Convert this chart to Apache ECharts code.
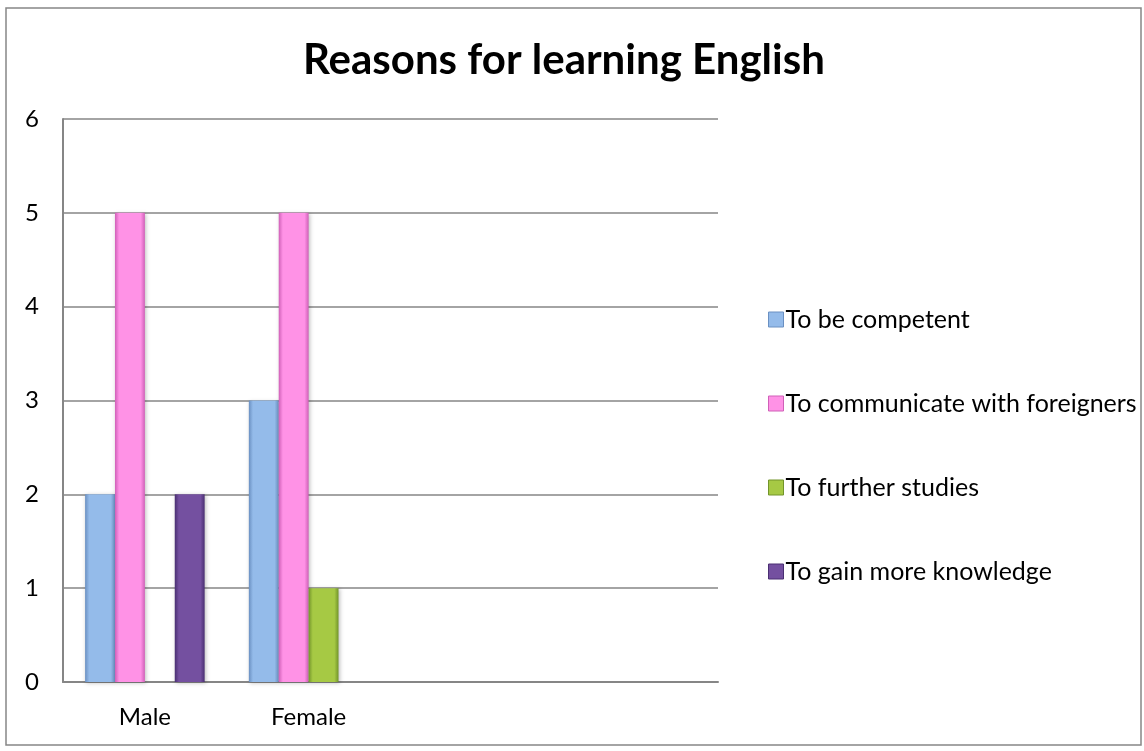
<!DOCTYPE html>
<html>
<head>
<meta charset="utf-8">
<title>Reasons for learning English</title>
<script src="https://cdn.jsdelivr.net/npm/echarts@6/dist/echarts.min.js"></script>
<style>
  html, body { margin: 0; padding: 0; background: #ffffff; }
  #chart { width: 1144px; height: 751px; }
</style>
</head>
<body>
<div id="chart"></div>
<script>
// Survey answers grouped by gender (two trailing empty slots keep the bar groups at the left)
const categories = ['Male', 'Female', '', ''];
const seriesNames = [
  'To be competent',
  'To communicate with foreigners',
  'To further studies',
  'To gain more knowledge'
];
const competent = [2, 3, null, null];
const communicate = [5, 5, null, null];
const furtherStudies = [0, 1, null, null];
const gainKnowledge = [2, 0, null, null];
const yTicks = [0, 1, 2, 3, 4, 5, 6];

// [edge, centre] shades for each bevelled bar
const palette = [
  ['#6a90c2', '#94bbea'],
  ['#d060b8', '#ff92e6'],
  ['#72942a', '#a6c944'],
  ['#4a2f72', '#7450a0']
];

function bevel(pair) {
  return {
    type: 'linear', x: 0, y: 0, x2: 1, y2: 0,
    colorStops: [
      { offset: 0, color: pair[0] },
      { offset: 0.14, color: pair[1] },
      { offset: 0.86, color: pair[1] },
      { offset: 1, color: pair[0] }
    ]
  };
}

const values = [competent, communicate, furtherStudies, gainKnowledge];
const font = 'Lato, "Open Sans", sans-serif';

const chart = echarts.init(document.getElementById('chart'), null, { renderer: 'canvas' });
chart.setOption({
  animation: false,
  backgroundColor: '#ffffff',
  title: {
    text: 'Reasons for learning English',
    left: 298,
    top: 34,
    textStyle: { fontFamily: font, fontWeight: 'bold', fontSize: 42, color: '#000000' }
  },
  legend: {
    orient: 'vertical',
    left: 763,
    top: 302,
    itemWidth: 15,
    itemHeight: 15,
    itemGap: 59,
    icon: 'rect',
    textStyle: { fontFamily: font, fontSize: 25, color: '#000000', padding: [0, 0, 0, -3] },
    data: seriesNames.map((n, i) => ({ name: n, itemStyle: { color: palette[i][1], borderColor: palette[i][0], borderWidth: 1 } }))
  },
  grid: { left: 63, right: 426, top: 119, bottom: 69, containLabel: false },
  xAxis: {
    type: 'category',
    data: categories,
    axisLine: { lineStyle: { color: '#868686', width: 2 } },
    axisTick: { show: false },
    axisLabel: { fontFamily: font, fontSize: 24, color: '#000000', margin: 23 }
  },
  yAxis: {
    type: 'value',
    min: yTicks[0],
    max: yTicks[yTicks.length - 1],
    interval: 1,
    axisLine: { show: true, lineStyle: { color: '#868686', width: 2 } },
    axisTick: { show: false },
    splitLine: { lineStyle: { color: '#868686', width: 1.5 } },
    axisLabel: { fontFamily: font, fontSize: 24, color: '#000000', margin: 31, align: 'center' }
  },
  series: values.map((v, i) => ({
    name: seriesNames[i],
    type: 'bar',
    data: v,
    barGap: '0%',
    barCategoryGap: '27%',
    itemStyle: { color: bevel(palette[i]), shadowColor: 'rgba(0,0,0,0.25)', shadowBlur: 4, shadowOffsetX: 1, shadowOffsetY: 1 }
  })),
  graphic: [{
    type: 'rect',
    shape: { x: 6, y: 8, width: 1135, height: 737 },
    style: { fill: null, stroke: '#868686', lineWidth: 1.5 },
    silent: true
  }]
});
</script>
</body>
</html>
